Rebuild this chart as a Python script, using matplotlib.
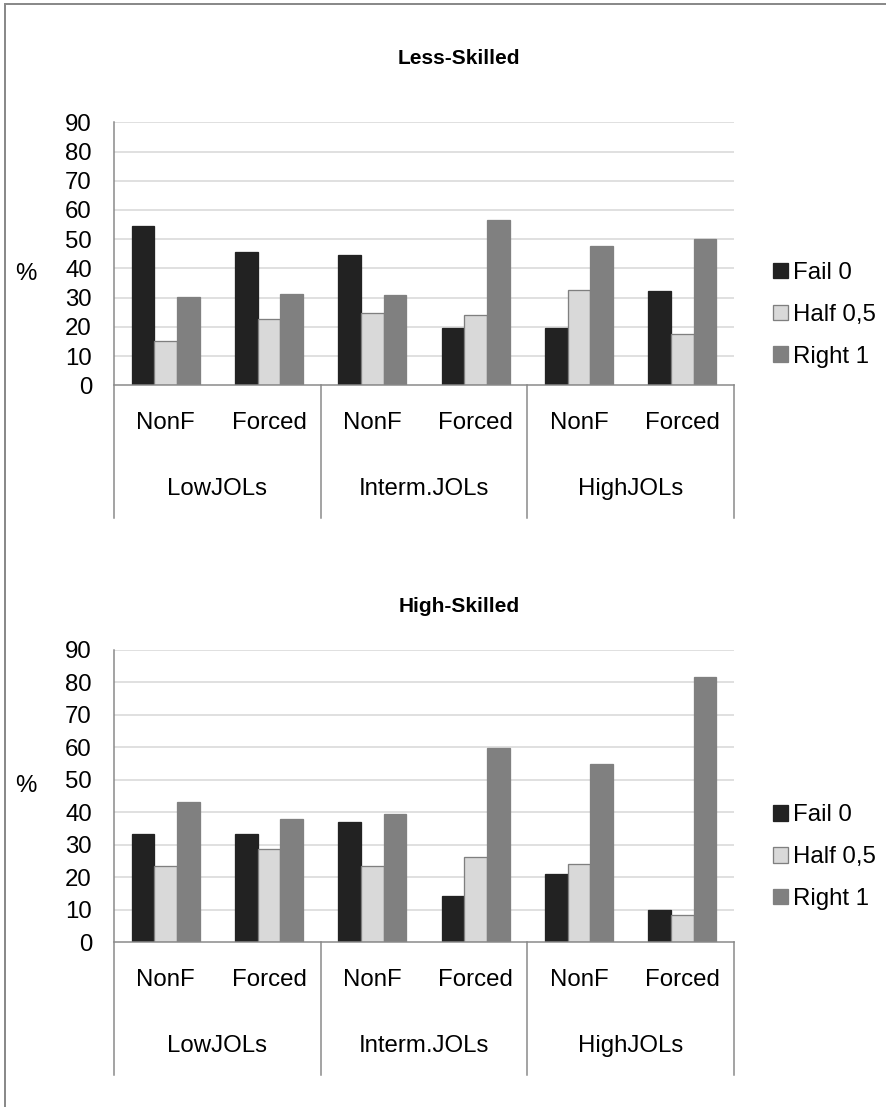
import matplotlib
matplotlib.use("Agg")
import matplotlib.pyplot as plt
from matplotlib.lines import Line2D
from matplotlib.patches import Patch

plt.rcParams['font.family'] = ['Liberation Sans', 'DejaVu Sans']

W, H = 886, 1107
DPI = 100

sub_labels = ["NonF", "Forced", "NonF", "Forced", "NonF", "Forced"]
group_labels = ["LowJOLs", "Interm.JOLs", "HighJOLs"]
series_names = ["Fail 0", "Half 0,5", "Right 1"]
yticks = [0, 10, 20, 30, 40, 50, 60, 70, 80, 90]

# Less-Skilled
less_fail = [54.4, 45.7, 44.6, 19.5, 19.5, 32.3]
less_half = [15.3, 22.8, 24.7, 23.9, 32.6, 17.7]
less_right = [30.2, 31.2, 30.8, 56.6, 47.8, 49.9]

# High-Skilled
high_fail = [33.4, 33.4, 37.2, 14.2, 21.1, 9.9]
high_half = [23.4, 28.6, 23.4, 26.3, 24.0, 8.4]
high_right = [43.2, 38.1, 39.5, 59.7, 55.0, 81.8]

FILL = ["#222222", "#d9d9d9", "#808080"]
EDGE = ["#222222", "#7f7f7f", "#808080"]
AXIS_C = "#888888"
GRID_C = "#d9d9d9"
FS = 17.3


def px(v):
    # pixels -> points
    return v * 72.0 / DPI


def draw_panel(fig, box, title, title_y, pct_y, fail, half, right):
    left, top, rgt, bot = box
    ax = fig.add_axes([left / W, 1 - bot / H, (rgt - left) / W, (bot - top) / H])
    ax_h = bot - top
    n = len(sub_labels)
    xs = [i + 0.5 for i in range(n)]
    bw = 0.22
    for k, vals in enumerate([fail, half, right]):
        ax.bar([x + (k - 1) * bw for x in xs], vals, width=bw,
               color=FILL[k], edgecolor=EDGE[k], linewidth=px(1.3),
               label=series_names[k], zorder=3)

    ax.set_xlim(0, n)
    ax.set_ylim(0, 90)
    ax.set_yticks(yticks)
    ax.set_xticks([])
    ax.tick_params(axis='y', length=0, pad=px(22), labelsize=FS)
    for s in ax.spines.values():
        s.set_visible(False)
    for t in yticks[1:]:
        ax.axhline(t, color=GRID_C, lw=px(1.6), zorder=1)

    # axis lines and category dividers that run below the plot
    drop = -133.0 / ax_h
    tr = ax.get_xaxis_transform()
    ax.plot([0, n], [0, 0], color=AXIS_C, lw=px(1.5), transform=tr, clip_on=False, zorder=4)
    ax.plot([0, 0], [1, drop], color=AXIS_C, lw=px(1.5), transform=tr, clip_on=False, zorder=4)
    for g in range(1, len(group_labels) + 1):
        ax.plot([2 * g, 2 * g], [0, drop], color=AXIS_C, lw=px(1.5), transform=tr,
                clip_on=False, zorder=4)

    for x, lab in zip(xs, sub_labels):
        ax.text(x, -38.0 / ax_h, lab, transform=tr, ha='center', va='center', fontsize=FS)
    for g, lab in enumerate(group_labels):
        ax.text(2 * g + 1, -104.0 / ax_h, lab, transform=tr, ha='center', va='center', fontsize=FS)

    fig.text(459 / W, 1 - title_y / H, title, ha='center', va='center',
             fontsize=15, fontweight='bold')
    fig.text(26 / W, 1 - pct_y / H, "%", ha='center', va='center', fontsize=FS)

    mid = (top + bot) / 2.0
    handles = [Patch(facecolor=FILL[k], edgecolor=EDGE[k], linewidth=px(1.3)) for k in range(3)]
    ax.legend(handles, series_names, loc='center left',
              bbox_to_anchor=(773 / W, 1 - (mid + 61) / H), bbox_transform=fig.transFigure,
              frameon=False, fontsize=FS, handlelength=0.62, handleheight=0.62,
              handletextpad=0.2, labelspacing=0.82, borderpad=0, borderaxespad=0)
    return ax


fig = plt.figure(figsize=(W / DPI, H / DPI), dpi=DPI)

draw_panel(fig, (114, 122.3, 734, 385.3), "Less-Skilled", 59, 274,
           less_fail, less_half, less_right)
draw_panel(fig, (114, 650, 734, 942.4), "High-Skilled", 606, 786,
           high_fail, high_half, high_right)

# outer frame (top and left edges)
fig.add_artist(Line2D([4.5 / W, 4.5 / W], [0, 1 - 4.0 / H], color="#8a8a8a",
                      lw=px(2), transform=fig.transFigure))
fig.add_artist(Line2D([4.5 / W, 1], [1 - 4.0 / H, 1 - 4.0 / H], color="#8a8a8a",
                      lw=px(2), transform=fig.transFigure))

fig.savefig("out.png", dpi=DPI)
